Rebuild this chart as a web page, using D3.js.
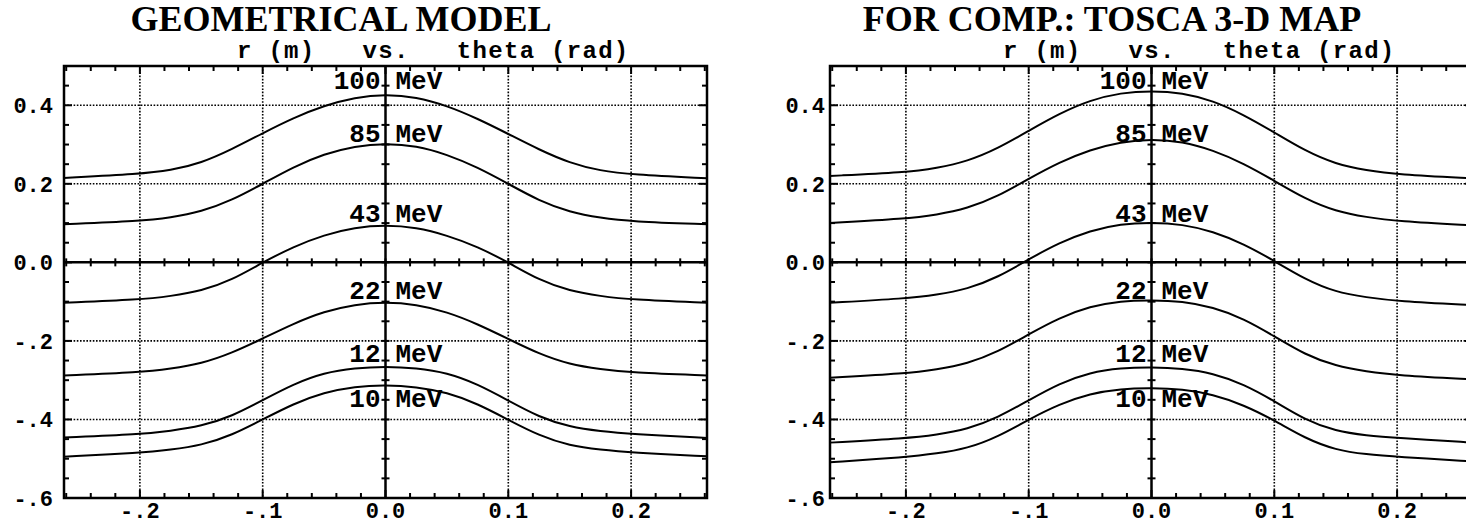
<!DOCTYPE html>
<html>
<head>
<meta charset="utf-8">
<script src="https://cdn.jsdelivr.net/npm/d3@7"></script>
<style>
  body { margin: 0; background: #fff; }
  svg { display: block; }
  .mono { font-family: "Liberation Mono", "Courier New", monospace; font-weight: bold; }
  .serif { font-family: "Liberation Serif", "Times New Roman", serif; font-weight: bold; }
</style>
</head>
<body>
<div id="chart"></div>
<script>

// theta sample points (rad)
var theta = [-0.262, -0.2, -0.175, -0.15, -0.125, -0.1, -0.075, -0.05, -0.025, 0,
             0.025, 0.05, 0.075, 0.1, 0.125, 0.15, 0.175, 0.2, 0.262]

var energies = ["100", "85", "43", "22", "12", "10"]

// r (m)
var geom100 = [0.215, 0.225, 0.234, 0.253, 0.288, 0.329, 0.368, 0.399, 0.420, 0.428, 0.421, 0.399, 0.366, 0.327, 0.287, 0.253, 0.233, 0.224, 0.214]
var geom85  = [0.097, 0.105, 0.114, 0.129, 0.158, 0.200, 0.243, 0.276, 0.296, 0.303, 0.297, 0.275, 0.242, 0.200, 0.157, 0.128, 0.113, 0.104, 0.097]
var geom43  = [-0.103, -0.095, -0.086, -0.073, -0.045, 0.000, 0.040, 0.070, 0.089, 0.095, 0.089, 0.069, 0.040, 0.000, -0.045, -0.073, -0.086, -0.095, -0.103]
var geom22  = [-0.288, -0.280, -0.271, -0.258, -0.231, -0.194, -0.156, -0.125, -0.107, -0.101, -0.107, -0.126, -0.157, -0.195, -0.233, -0.260, -0.272, -0.281, -0.288]
var geom12  = [-0.446, -0.438, -0.429, -0.417, -0.392, -0.351, -0.310, -0.281, -0.269, -0.265, -0.269, -0.281, -0.310, -0.352, -0.394, -0.419, -0.430, -0.437, -0.447]
var geom10  = [-0.495, -0.485, -0.477, -0.466, -0.440, -0.400, -0.360, -0.331, -0.316, -0.312, -0.317, -0.331, -0.360, -0.401, -0.441, -0.467, -0.477, -0.484, -0.494]

// r (m)
var tosca100 = [0.220, 0.229, 0.240, 0.257, 0.290, 0.335, 0.379, 0.413, 0.432, 0.437, 0.432, 0.412, 0.376, 0.331, 0.284, 0.250, 0.234, 0.224, 0.214]
var tosca85  = [0.100, 0.111, 0.121, 0.137, 0.168, 0.213, 0.255, 0.287, 0.307, 0.314, 0.308, 0.286, 0.252, 0.208, 0.162, 0.130, 0.115, 0.105, 0.094]
var tosca43  = [-0.103, -0.092, -0.083, -0.068, -0.038, 0.008, 0.050, 0.081, 0.098, 0.102, 0.097, 0.079, 0.047, 0.004, -0.043, -0.076, -0.089, -0.099, -0.109]
var tosca22  = [-0.294, -0.283, -0.273, -0.258, -0.228, -0.183, -0.141, -0.112, -0.098, -0.096, -0.099, -0.114, -0.143, -0.188, -0.235, -0.264, -0.278, -0.288, -0.298]
var tosca12  = [-0.459, -0.448, -0.439, -0.425, -0.395, -0.351, -0.308, -0.280, -0.269, -0.267, -0.270, -0.282, -0.310, -0.353, -0.401, -0.430, -0.441, -0.447, -0.459]
var tosca10  = [-0.509, -0.496, -0.487, -0.474, -0.444, -0.400, -0.361, -0.334, -0.322, -0.320, -0.323, -0.336, -0.363, -0.402, -0.448, -0.478, -0.489, -0.495, -0.507]

// r value at which each energy label sits
var labelR = [0.442, 0.307, 0.102, -0.094, -0.254, -0.368]

var xMajor = [-0.2, -0.1, 0, 0.1, 0.2]
var yMajor = [0.4, 0.2, 0, -0.2, -0.4, -0.6]
var xDomain = [-0.2618, 0.2618]
var yDomain = [-0.6, 0.5]

var W = 1466, H = 525

var svg = d3.select("#chart").append("svg")
    .attr("width", W)
    .attr("height", H)

function fmt (v) {
	if (Math.abs(v) < 1e-9) return "0.0"
	return v < 0 ? "-" + d3.format(".1f")(-v).slice(1) : d3.format(".1f")(v)
}

function drawPanel (left, title, titleX, subX, series, yLabelGap) {

	var width = 643, top = 66, height = 432

	var x = d3.scaleLinear().domain(xDomain).range([left, left + width])
	var y = d3.scaleLinear().domain(yDomain).range([top + height, top])

	var g = svg.append("g")

	// titles
	g.append("text").attr("class", "serif")
	  .attr("x", titleX).attr("y", 31)
	  .attr("text-anchor", "middle")
	  .style("font-size", "36px")
	  .text(title)

	g.append("text").attr("class", "mono")
	  .attr("x", subX).attr("y", 58)
	  .style("font-size", "24px")
	  .style("letter-spacing", "1.3px")
	  .style("white-space", "pre")
	  .attr("xml:space", "preserve")
	  .text("r (m)   vs.   theta (rad)")

	// dotted grid
	var grid = g.append("g")
	  .attr("stroke", "#000").attr("stroke-width", 1.6)
	  .attr("stroke-dasharray", "1.6 1.6")
	grid.selectAll("line.gx").data(xMajor.filter(d => d != 0)).enter().append("line")
	  .attr("x1", d => x(d)).attr("x2", d => x(d))
	  .attr("y1", top).attr("y2", top + height)
	grid.selectAll("line.gy").data(yMajor.filter(d => d != 0 && d > -0.6)).enter().append("line")
	  .attr("x1", left).attr("x2", left + width)
	  .attr("y1", d => y(d)).attr("y2", d => y(d))

	var xMinor = d3.range(-13, 14).map(i => i * 0.02)
	var yMinor = d3.range(-12, 11).map(i => i * 0.05)

	var ticks = g.append("g").attr("stroke", "#000").attr("stroke-width", 2)

	// ticks on the frame, pointing inward
	xMinor.forEach(function (d) {
		var major = Math.abs(d * 10 - Math.round(d * 10)) < 1e-6
		var len = major ? 8 : 5
		ticks.append("line").attr("x1", x(d)).attr("x2", x(d)).attr("y1", top).attr("y2", top + len)
		ticks.append("line").attr("x1", x(d)).attr("x2", x(d)).attr("y1", top + height).attr("y2", top + height - len)
		// ticks crossing the r = 0 line
		ticks.append("line").attr("x1", x(d)).attr("x2", x(d)).attr("y1", y(0) - 4).attr("y2", y(0) + 4)
	})
	yMinor.forEach(function (d) {
		var major = Math.abs(d * 5 - Math.round(d * 5)) < 1e-6
		var len = major ? 8 : 5
		ticks.append("line").attr("y1", y(d)).attr("y2", y(d)).attr("x1", left).attr("x2", left + len)
		ticks.append("line").attr("y1", y(d)).attr("y2", y(d)).attr("x1", left + width).attr("x2", left + width - len)
		// ticks crossing the theta = 0 line
		ticks.append("line").attr("y1", y(d)).attr("y2", y(d)).attr("x1", x(0) - 4).attr("x2", x(0) + 4)
	})

	// frame and centre axes
	g.append("rect")
	  .attr("x", left).attr("y", top).attr("width", width).attr("height", height)
	  .attr("fill", "none").attr("stroke", "#000").attr("stroke-width", 2.5)
	g.append("line")
	  .attr("x1", left).attr("x2", left + width).attr("y1", y(0)).attr("y2", y(0))
	  .attr("stroke", "#000").attr("stroke-width", 2.5)
	g.append("line")
	  .attr("x1", x(0)).attr("x2", x(0)).attr("y1", top).attr("y2", top + height)
	  .attr("stroke", "#000").attr("stroke-width", 2.5)

	// tick labels
	g.selectAll("text.xt").data(xMajor).enter().append("text")
	  .attr("class", "mono")
	  .attr("x", d => x(d)).attr("y", 518)
	  .attr("text-anchor", "middle")
	  .style("font-size", "22px")
	  .text(fmt)
	g.selectAll("text.yt").data(yMajor).enter().append("text")
	  .attr("class", "mono")
	  .attr("x", left - yLabelGap).attr("y", d => y(d))
	  .attr("dy", "0.35em")
	  .attr("text-anchor", "end")
	  .style("font-size", "22px")
	  .text(fmt)

	// curves
	var line = d3.line()
	  .x((d, i) => x(theta[i]))
	  .y(d => y(d))
	  .curve(d3.curveBasis)

	g.append("g").selectAll("path").data(series).enter().append("path")
	  .attr("d", d => line(d))
	  .attr("fill", "none")
	  .attr("stroke", "#000")
	  .attr("stroke-width", 2)

	// energy labels
	var lab = g.append("g").attr("class", "mono").style("font-size", "26px")
	lab.selectAll("text.e").data(energies).enter().append("text")
	  .attr("x", x(0) - 5).attr("y", (d, i) => y(labelR[i]))
	  .attr("text-anchor", "end")
	  .text(d => d)
	lab.selectAll("text.m").data(energies).enter().append("text")
	  .attr("x", x(0) + 10).attr("y", (d, i) => y(labelR[i]))
	  .text("MeV")
}

drawPanel(64, "GEOMETRICAL MODEL", 341, 237,
	[geom100, geom85, geom43, geom22, geom12, geom10], 11)
drawPanel(830, "FOR COMP.: TOSCA 3-D MAP", 1112, 1003,
	[tosca100, tosca85, tosca43, tosca22, tosca12, tosca10], 5)

</script>
</body>
</html>
